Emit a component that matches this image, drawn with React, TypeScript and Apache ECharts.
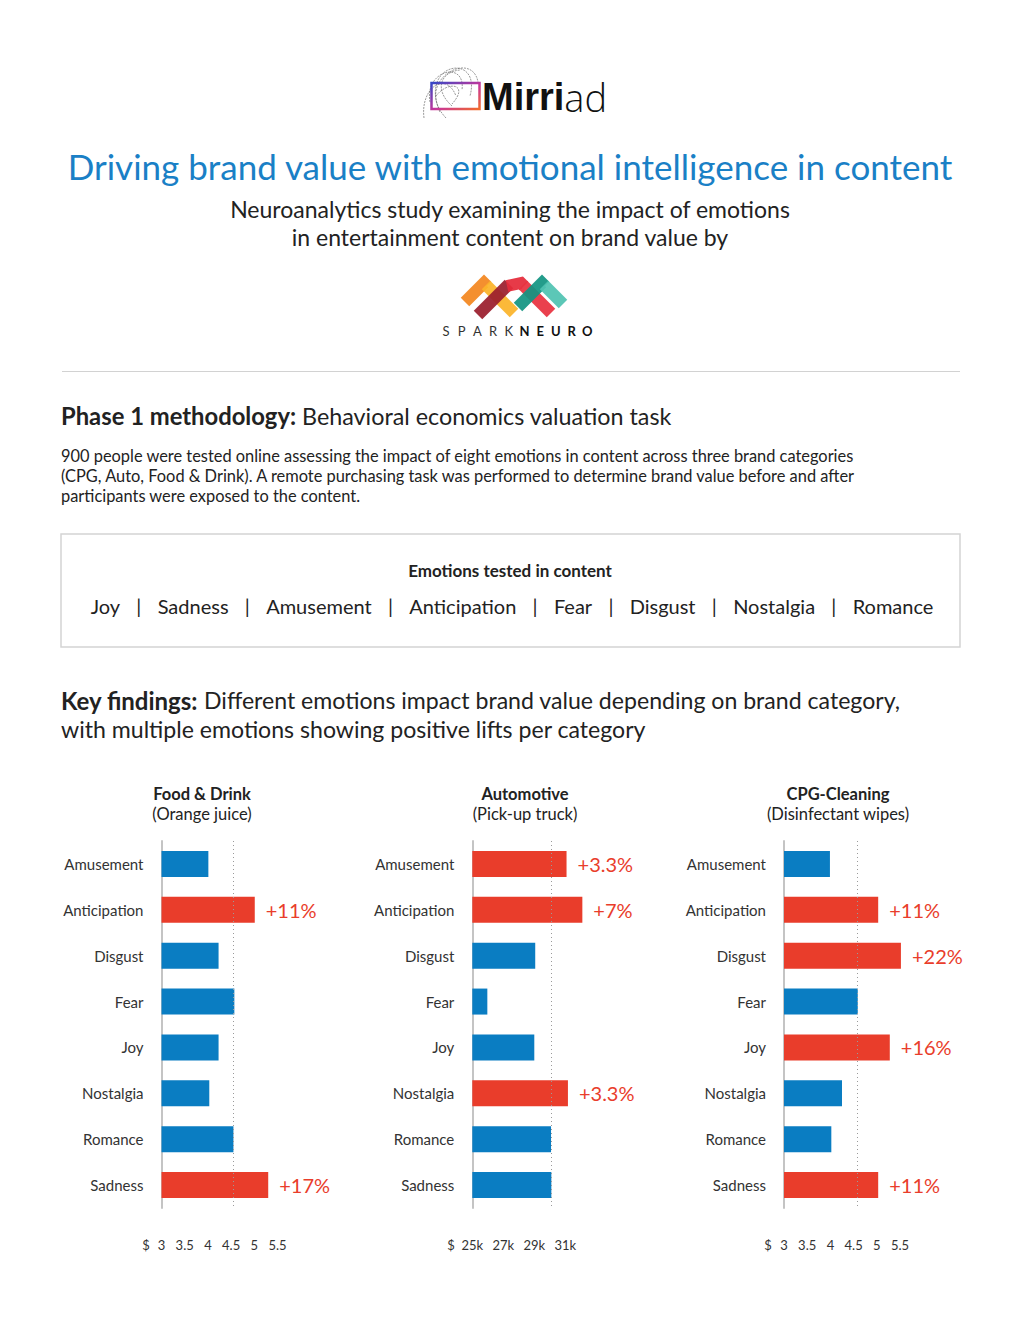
import React, { useEffect, useRef } from 'react';
import * as echarts from 'echarts';

// ---------- data ----------
const categories = ['Amusement', 'Anticipation', 'Disgust', 'Fear', 'Joy', 'Nostalgia', 'Romance', 'Sadness'];

const foodValues = [4.01, 5.01, 4.23, 4.57, 4.23, 4.03, 4.55, 5.3];
const foodLifts = ['', '+11%', '', '', '', '', '', '+17%'];
const foodBaseline = 4.55;

const autoValues = [31.08, 32.1, 29.06, 25.97, 29.0, 31.17, 30.08, 30.1]; // $k
const autoLifts = ['+3.3%', '+7%', '', '', '', '+3.3%', '', ''];
const autoBaseline = 30.08;

const cpgValues = [3.99, 5.03, 5.52, 4.59, 5.28, 4.25, 4.02, 5.03];
const cpgLifts = ['', '+11%', '+22%', '', '+16%', '', '', '+11%'];
const cpgBaseline = 4.58;

const dollarTicks = [3, 3.5, 4, 4.5, 5, 5.5];
const autoTicks = [25, 27, 29, 31];

const emotionsTested = ['Joy', 'Sadness', 'Amusement', 'Anticipation', 'Fear', 'Disgust', 'Nostalgia', 'Romance'];
const sparkLetters = ['S', 'P', 'A', 'R', 'K', 'N', 'E', 'U', 'R', 'O'];

// ---------- styles ----------
const FONT = 'Lato, "Open Sans", sans-serif';
const BLUE = '#0a7dc2';
const RED = '#e93d2b';
const TXT = '#222222';

const panels = [
  {
    title: 'Food & Drink', sub: '(Orange juice)', values: foodValues, lifts: foodLifts, baseline: foodBaseline,
    min: 3, max: 6, ticks: dollarTicks, suffix: '', left: 161.5, width: 139.2, cx: 202, dollarX: 146,
  },
  {
    title: 'Automotive', sub: '(Pick-up truck)', values: autoValues, lifts: autoLifts, baseline: autoBaseline,
    min: 25, max: 33, ticks: autoTicks, suffix: 'k', left: 472.3, width: 124, cx: 525, dollarX: 451,
  },
  {
    title: 'CPG-Cleaning', sub: '(Disinfectant wipes)', values: cpgValues, lifts: cpgLifts, baseline: cpgBaseline,
    min: 3, max: 6, ticks: dollarTicks, suffix: '', left: 784, width: 139.2, cx: 838, dollarX: 768,
  },
];

const GRID_TOP = 841;
const GRID_H = 367;

function txt(x: number, y: number, text: string, size: number, extra: any = {}) {
  return {
    type: 'text',
    x,
    y,
    silent: true,
    style: {
      text,
      fontSize: size,
      fontFamily: FONT,
      fill: TXT,
      align: 'left',
      verticalAlign: 'middle',
      ...extra,
    },
  };
}

function buildOption() {
  const grids: any[] = [];
  const xAxes: any[] = [];
  const yAxes: any[] = [];
  const series: any[] = [];
  const graphics: any[] = [];

  panels.forEach((p, i) => {
    grids.push({ left: p.left, top: GRID_TOP, width: p.width, height: GRID_H, containLabel: false });
    xAxes.push({
      gridIndex: i,
      type: 'value',
      min: p.min,
      max: p.max,
      interval: p.suffix === 'k' ? 1 : 0.5,
      axisLine: { show: false },
      axisTick: { show: false },
      splitLine: { show: false },
      axisLabel: {
        margin: 30,
        fontSize: 13,
        fontFamily: FONT,
        color: '#333',
        formatter: (v: number) => (p.ticks.indexOf(v) >= 0 ? `${v}${p.suffix}` : ''),
      },
    });
    yAxes.push({
      gridIndex: i,
      type: 'category',
      inverse: true,
      data: categories,
      axisLine: { show: true, lineStyle: { color: '#c4c4c4', width: 2 } },
      axisTick: { show: false },
      axisLabel: { margin: 18, fontSize: 15, fontFamily: FONT, color: '#333' },
    });
    series.push({
      type: 'bar',
      xAxisIndex: i,
      yAxisIndex: i,
      clip: true,
      barWidth: 26,
      data: p.values.map((v, k) => ({
        value: v,
        itemStyle: { color: p.lifts[k] ? RED : BLUE },
      })),
      label: {
        show: true,
        position: 'right',
        distance: 11,
        fontSize: 20,
        fontFamily: FONT,
        color: RED,
        formatter: (params: any) => p.lifts[params.dataIndex] || '',
      },
      markLine: {
        silent: true,
        symbol: ['none', 'none'],
        label: { show: false },
        lineStyle: { color: '#9a9a9a', type: [1, 3], width: 1 },
        data: [{ xAxis: p.baseline }],
      },
    });
    graphics.push(txt(p.cx, 794, p.title, 16.5, { align: 'center', fontWeight: 'bold' }));
    graphics.push(txt(p.cx, 814, p.sub, 16.5, { align: 'center' }));
    graphics.push(txt(p.dollarX, 1245, '$', 13, { align: 'center', fill: '#333' }));
  });

  // ---- Mirriad logo ----
  const swirls = [
    [440, 112, 418, 62, 482, 52, 470, 96],
    [430, 102, 424, 70, 466, 60, 462, 90],
    [446, 118, 412, 82, 472, 48, 478, 82],
    [424, 118, 420, 88, 446, 70, 456, 96],
    [452, 106, 434, 90, 440, 72, 460, 70],
    [436, 96, 448, 80, 470, 84, 452, 104],
  ];
  swirls.forEach((s) => {
    graphics.push({
      type: 'bezierCurve',
      silent: true,
      shape: { x1: s[0], y1: s[1], cpx1: s[2], cpy1: s[3], cpx2: s[4], cpy2: s[5], x2: s[6], y2: s[7] },
      style: { stroke: '#555', lineWidth: 0.6, fill: null, lineDash: [2, 1] },
    });
  });
  graphics.push({
    type: 'rect',
    silent: true,
    shape: { x: 431.5, y: 83, width: 48, height: 26 },
    style: {
      fill: null,
      lineWidth: 2.5,
      stroke: new echarts.graphic.LinearGradient(0, 0, 1, 1, [
        { offset: 0, color: '#3547c6' },
        { offset: 0.55, color: '#c8369a' },
        { offset: 1, color: '#f26a2a' },
      ]),
    },
  });
  graphics.push({
    type: 'text',
    x: 482,
    y: 97,
    silent: true,
    style: {
      text: '{b|Mirri}{l|ad}',
      verticalAlign: 'middle',
      align: 'left',
      rich: {
        b: { fontSize: 38, fontWeight: 'bold', fontFamily: '"Liberation Sans", Arial, sans-serif', fill: '#111' },
        l: { fontSize: 38, fontWeight: 300, fontFamily: '"Open Sans", sans-serif', fill: '#111' },
      },
    },
  });

  // ---- Title ----
  graphics.push(txt(510, 166, 'Driving brand value with emotional intelligence in content', 35, { align: 'center', fill: '#1a80c6' }));
  graphics.push(txt(510, 209, 'Neuroanalytics study examining the impact of emotions', 23, { align: 'center' }));
  graphics.push(txt(510, 237, 'in entertainment content on brand value by', 23, { align: 'center' }));

  // ---- SparkNeuro logo ----
  const sparkBands = [
    { pts: [[465, 302], [484, 283], [487, 286]], color: '#f3861f' },
    { pts: [[486, 285], [514, 313]], color: '#fbb42a' },
    { pts: [[478, 315], [509, 284]], color: '#9b1e2d' },
    { pts: [[507, 286], [521, 272 + 11], [524, 286]], color: '#e52b3a' },
    { pts: [[523, 285], [551, 313]], color: '#e8323f' },
    { pts: [[518, 307], [542, 283], [545, 286]], color: '#129482' },
    { pts: [[544, 285], [563, 304]], color: '#50c3b1' },
  ];
  sparkBands.forEach((c) => {
    graphics.push({
      type: 'polyline',
      silent: true,
      shape: { points: c.pts },
      style: { stroke: c.color, lineWidth: 12, fill: null, lineJoin: 'miter', lineCap: 'butt', opacity: 0.93 },
    });
  });
  sparkLetters.forEach((ch, k) => {
    graphics.push(
      txt(446 + k * 15.7, 331, ch, 13, {
        align: 'center',
        fontWeight: k >= 5 ? 'bold' : 'normal',
        fill: k >= 5 ? '#111' : '#333',
      }),
    );
  });

  // ---- separator ----
  graphics.push({
    type: 'line',
    silent: true,
    shape: { x1: 62, y1: 371.5, x2: 960, y2: 371.5 },
    style: { stroke: '#d2d2d2', lineWidth: 1.2 },
  });

  // ---- Phase 1 ----
  graphics.push({
    type: 'text',
    x: 61,
    y: 416,
    silent: true,
    style: {
      text: '{b|Phase 1 methodology:} Behavioral economics valuation task',
      fontSize: 23.3,
      fontFamily: FONT,
      fill: TXT,
      verticalAlign: 'middle',
      align: 'left',
      rich: { b: { fontSize: 23.8, fontWeight: 'bold', fontFamily: FONT, fill: TXT } },
    },
  });
  graphics.push(txt(61, 455, '900 people were tested online assessing the impact of eight emotions in content across three brand categories', 16.4));
  graphics.push(txt(61, 475, '(CPG, Auto, Food & Drink). A remote purchasing task was performed to determine brand value before and after', 16.4));
  graphics.push(txt(61, 495, 'participants were exposed to the content.', 16.4));

  // ---- Emotions box ----
  graphics.push({
    type: 'rect',
    silent: true,
    shape: { x: 61, y: 534, width: 899, height: 113 },
    style: { fill: null, stroke: '#d4d4d4', lineWidth: 1.5 },
  });
  graphics.push(txt(510, 570, 'Emotions tested in content', 17, { align: 'center', fontWeight: 'bold' }));
  graphics.push({
    type: 'text',
    x: 512,
    y: 606,
    silent: true,
    style: {
      text: emotionsTested.join('{s||}'),
      fontSize: 20,
      fontFamily: FONT,
      fill: TXT,
      align: 'center',
      verticalAlign: 'middle',
      rich: { s: { fontSize: 20, fontFamily: FONT, fill: TXT, padding: [0, 16.3, 0, 16.3] } },
    },
  });

  // ---- Key findings ----
  graphics.push({
    type: 'text',
    x: 61,
    y: 700,
    silent: true,
    style: {
      text: '{b|Key findings:} Different emotions impact brand value depending on brand category,',
      fontSize: 23.1,
      fontFamily: FONT,
      fill: TXT,
      verticalAlign: 'middle',
      align: 'left',
      rich: { b: { fontSize: 24, fontWeight: 'bold', fontFamily: FONT, fill: TXT } },
    },
  });
  graphics.push(txt(61, 729, 'with multiple emotions showing positive lifts per category', 23.1));

  return {
    animation: false,
    backgroundColor: '#ffffff',
    textStyle: { fontFamily: FONT },
    grid: grids,
    xAxis: xAxes,
    yAxis: yAxes,
    series,
    graphic: { elements: graphics },
  };
}

export default function App() {
  const ref = useRef<HTMLDivElement>(null);
  useEffect(() => {
    if (!ref.current) return;
    const chart = echarts.init(ref.current, null, { renderer: 'svg' });
    chart.setOption(buildOption() as any);
    return () => chart.dispose();
  }, []);
  return (
    <div
      ref={ref}
      style={{ position: 'absolute', left: 0, top: 0, width: 1020, height: 1320, background: '#fff' }}
    />
  );
}
